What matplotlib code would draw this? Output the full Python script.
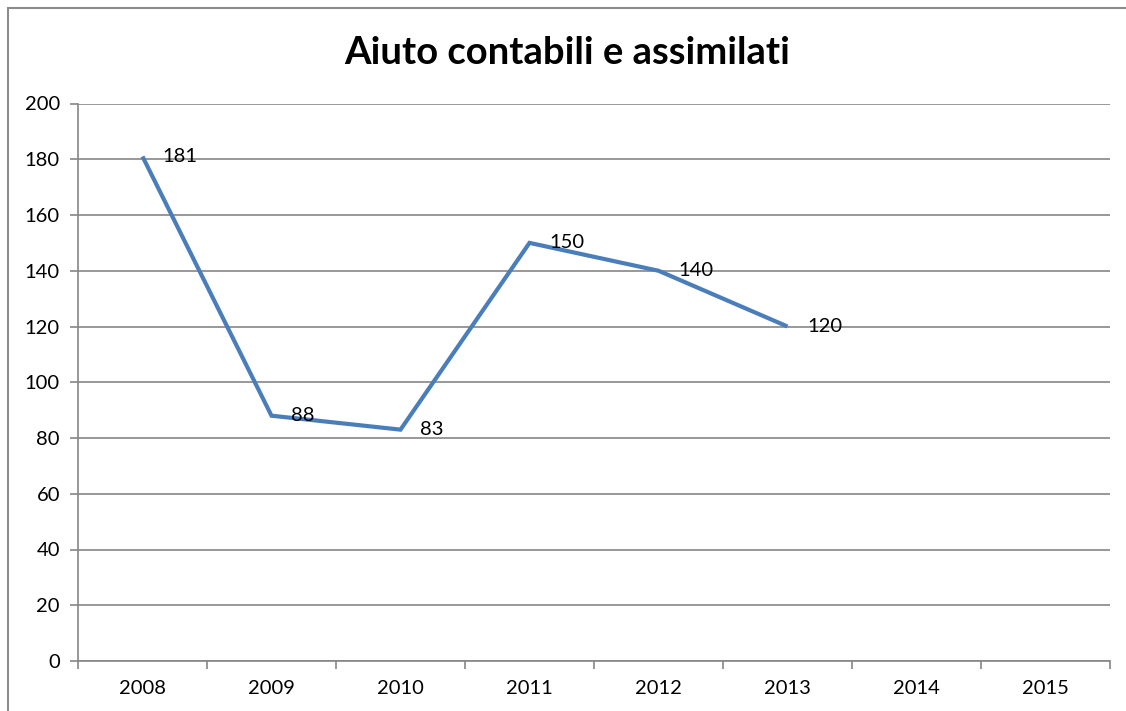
import matplotlib
matplotlib.use("Agg")
import matplotlib.pyplot as plt
from matplotlib.patches import Rectangle

categories = ["2008", "2009", "2010", "2011", "2012", "2013", "2014", "2015"]
values = [181, 88, 83, 150, 140, 120]
title = "Aiuto contabili e assimilati"
yticks = [0, 20, 40, 60, 80, 100, 120, 140, 160, 180, 200]

plt.rcParams['font.family'] = ['Lato', 'DejaVu Sans']

W, H = 1126, 711
fig = plt.figure(figsize=(W / 100, H / 100), dpi=100)
fig.patches.append(Rectangle((8 / W, -0.1), 1.2, (H - 8) / H + 0.1, transform=fig.transFigure,
                             fill=False, edgecolor='#8c8c8c', linewidth=1.5))

left, right, top, bottom = 78, 1110, 103.5, 661
ax = fig.add_axes([left / W, 1 - bottom / H, (right - left) / W, (bottom - top) / H])

grid_c = '#868686'
n = len(categories)
ax.set_xlim(0, n)
ax.set_ylim(0, 200)
x = [i + 0.5 for i in range(len(values))]
ax.plot(x, values, color='#4A7EBB', linewidth=3.0, solid_capstyle='butt', solid_joinstyle='miter', zorder=3)
for xi, v in zip(x, values):
    ax.annotate(str(v), (xi, v), xytext=(14, 0), textcoords='offset points',
                ha='left', va='center', fontsize=14.5, color='black', zorder=4)

ax.set_yticks(yticks)
ax.set_yticklabels([str(t) for t in yticks])
ax.yaxis.grid(True, color=grid_c, linewidth=1.2)
ax.set_axisbelow(True)
ax.set_xticks(range(n + 1))
ax.set_xticklabels([])
ax.set_xticks([i + 0.5 for i in range(n)], minor=True)
ax.set_xticklabels(categories, minor=True)
ax.tick_params(axis='x', which='major', length=6, width=1.2, color=grid_c, direction='out')
ax.tick_params(axis='x', which='minor', length=0, labelsize=14.5, pad=14)
ax.tick_params(axis='y', length=6, width=1.2, color=grid_c, direction='out', labelsize=14.5, pad=7)
for s in ['top', 'right']:
    ax.spines[s].set_visible(False)
for s in ['left', 'bottom']:
    ax.spines[s].set_color(grid_c)
    ax.spines[s].set_linewidth(1.2)

fig.text(567 / W, 1 - 53 / H, title, ha='center', va='center', fontsize=27.5, fontweight='bold')

fig.savefig('out.png', dpi=100)
